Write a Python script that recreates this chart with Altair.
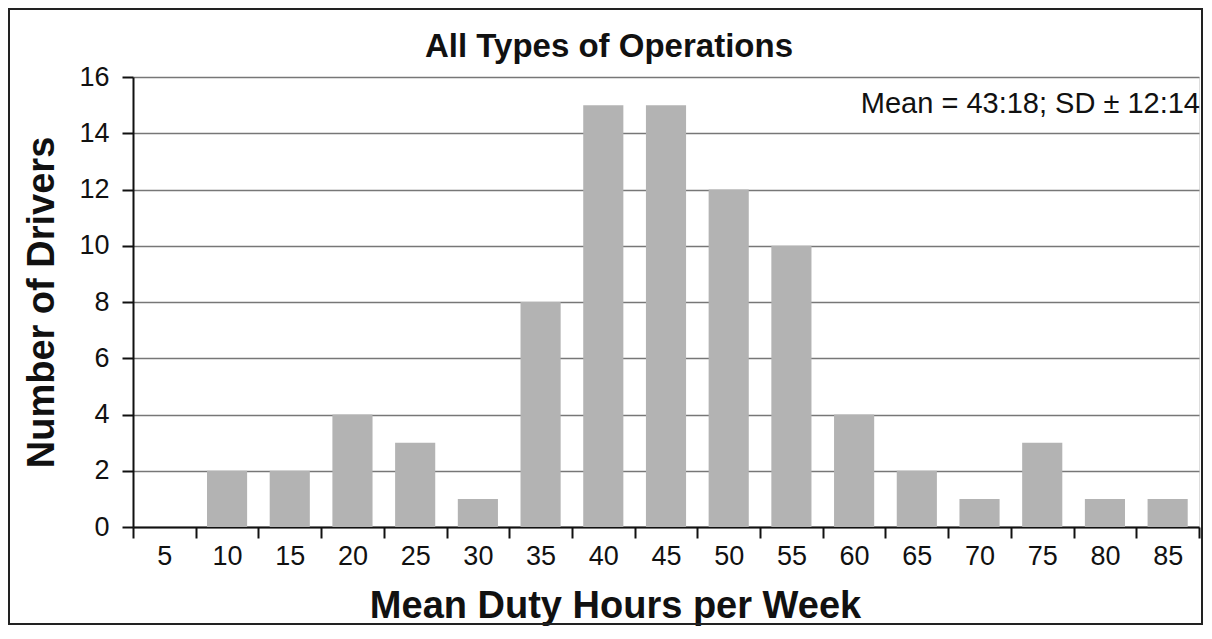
import altair as alt
import pandas as pd

hours = [5, 10, 15, 20, 25, 30, 35, 40, 45, 50, 55, 60, 65, 70, 75, 80, 85]
drivers = [0, 2, 2, 4, 3, 1, 8, 15, 15, 12, 10, 4, 2, 1, 3, 1, 1]
y_ticks = [0, 2, 4, 6, 8, 10, 12, 14, 16]
x_ticks = [2.5 + 2.5 * i for i in range(35)]
title_text = "All Types of Operations"
x_title = "Mean Duty Hours per Week"
y_title = "Number of Drivers"
note_text = "Mean = 43:18; SD \u00b1 12:14"

df = pd.DataFrame({"hours": hours, "drivers": drivers})

FONT = "Liberation Sans"
W, H = 1066, 450

x_scale = alt.Scale(domain=[2.5, 87.5], nice=False, zero=False)
y_scale = alt.Scale(domain=[0, 16], nice=False)

bars = alt.Chart(df).transform_calculate(
    lo="datum.hours - 1.6", hi="datum.hours + 1.6"
).mark_bar(color="#b3b3b3").encode(
    x=alt.X("lo:Q", scale=x_scale, axis=alt.Axis(
        values=x_ticks,
        title=x_title,
        labelExpr="datum.value % 5 == 0 ? datum.value : ''",
        labelOverlap=False,
        labelFont=FONT, labelFontSize=27, labelColor="#111",
        labelPadding=5,
        tickSize=11, tickColor="#111", tickWidth=2,
        tickOpacity={"condition": {"test": "datum.value % 5 == 0", "value": 0}, "value": 1},
        domainColor="#111", domainWidth=2,
        grid=False,
        titleFont=FONT, titleFontSize=38, titleFontWeight="bold", titleColor="#111",
        titleBaseline="alphabetic", titleX=482, titleY=90, titleAnchor="middle",
    )),
    x2="hi:Q",
    y=alt.Y("drivers:Q", scale=y_scale, axis=alt.Axis(
        values=y_ticks,
        title=y_title,
        labelFont=FONT, labelFontSize=27, labelColor="#111",
        labelPadding=13,
        tickSize=11, tickColor="#111", tickWidth=2,
        domainColor="#111", domainWidth=2,
        grid=True, gridColor="#777", gridWidth=1.5,
        titleFont=FONT, titleFontSize=38, titleFontWeight="bold", titleColor="#111",
        titleBaseline="alphabetic", titleX=-80, titleY=225, titleAngle=270, titleAnchor="middle",
    )),
    y2=alt.datum(0),
)

note = alt.Chart(pd.DataFrame({"t": [note_text]})).mark_text(
    font=FONT, fontSize=29, align="right", baseline="alphabetic", color="#111"
).encode(text="t:N", x=alt.value(1067), y=alt.value(36))

title = alt.Chart(pd.DataFrame({"t": [title_text]})).mark_text(
    font=FONT, fontSize=33, fontWeight="bold", align="center", baseline="alphabetic",
    color="#111", clip=False
).encode(text="t:N", x=alt.value(476), y=alt.value(-20))

border = alt.Chart(pd.DataFrame({"a": [0]})).mark_rect(
    fill=None, stroke="#222", strokeWidth=2, clip=False
).encode(x=alt.value(-124), x2=alt.value(1069), y=alt.value(-68), y2=alt.value(547))

chart = alt.layer(bars, note, title, border).properties(
    width=W, height=H,
    autosize=alt.AutoSizeParams(type="none"),
    padding={"left": 125, "top": 69, "right": 5, "bottom": 99},
).configure_view(stroke=None).configure(background="white")

chart.save("out.html", embed_options={"renderer": "svg", "actions": False})
